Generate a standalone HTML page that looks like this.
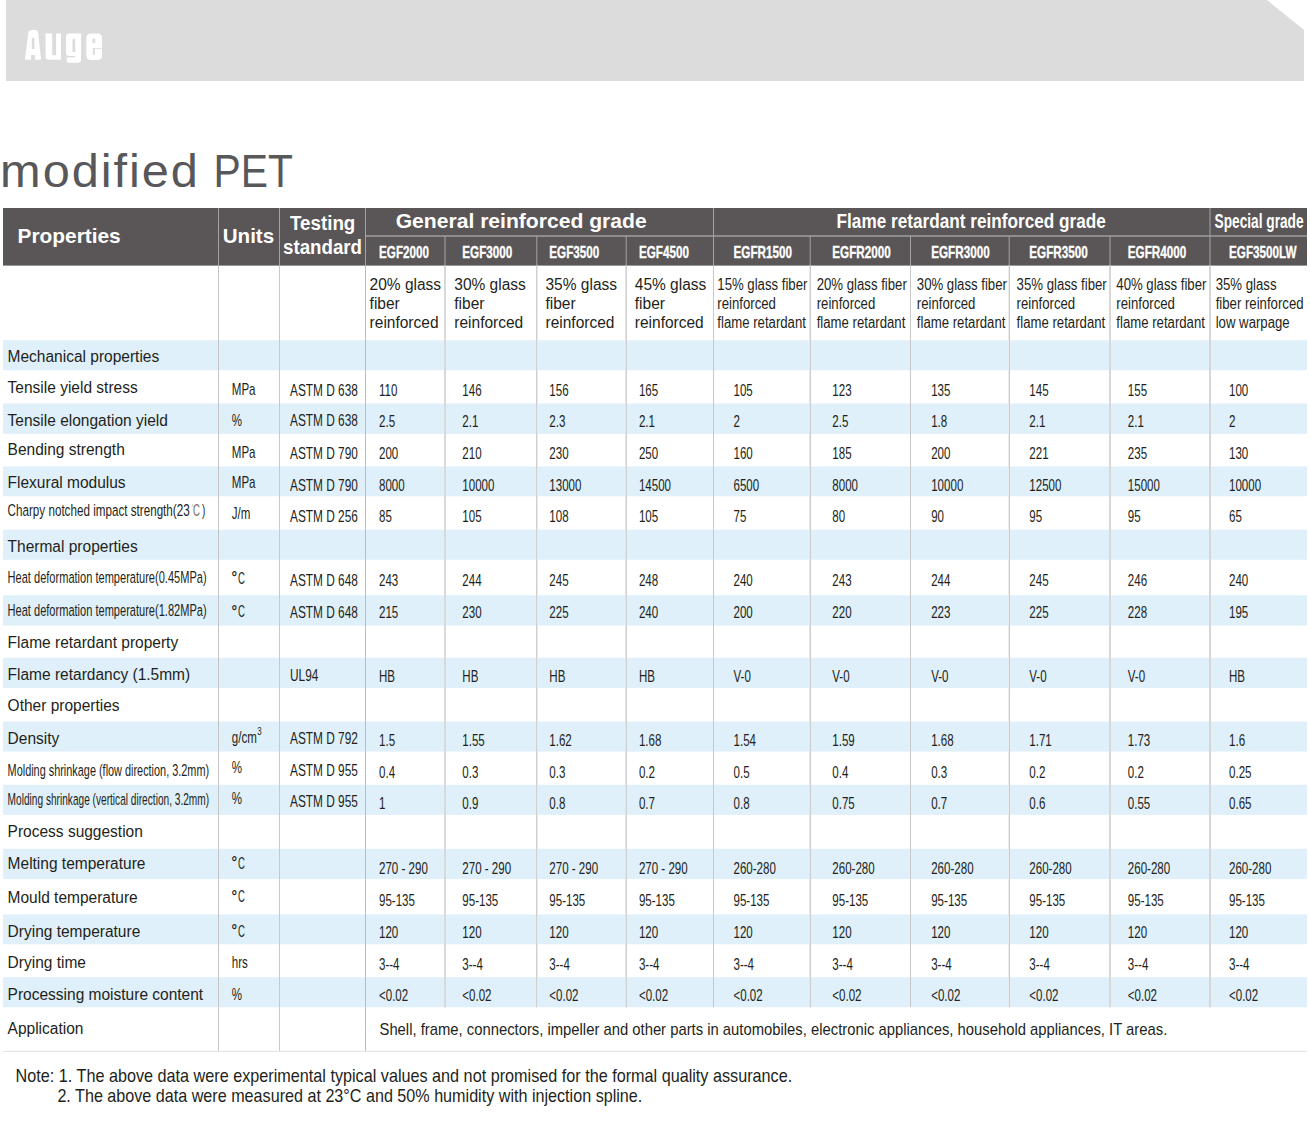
<!DOCTYPE html>
<html><head><meta charset="utf-8"><title>modified PET</title>
<style>
html,body{margin:0;padding:0;background:#fff}
#page{position:relative;width:1310px;height:1124px;overflow:hidden;background:#fff;font-family:"Liberation Sans",sans-serif}
svg{position:absolute;left:0;top:0;display:block}
svg text{font-family:"Liberation Sans",sans-serif}
</style></head><body><div id="page">
<svg width="1310" height="1124" viewBox="0 0 1310 1124">
<polygon points="6,0 1267,0 1304,30 1304,81 6,81" fill="#dcdcdc"/><path fill="#fff" fill-rule="evenodd" d="M24.9,59.8 L28.4,32.6 Q28.8,29.9 31.2,29.9 L35.4,29.9 Q37.8,29.9 38.2,32.6 L41.1,59.8 L35.1,59.8 L35.1,54.9 L31.2,54.9 L31.2,59.8 Z M31.8,49 L31.8,39 Q31.8,37.5 33.1,37.5 Q34.4,37.5 34.4,39 L34.4,49 Z M45.6,33.5 L52.2,33.5 L52.2,55.2 L56.1,55.2 L56.1,33.5 L61,33.5 L61,59.8 L48.8,59.8 Q45.6,59.8 45.6,56.6 Z M66,36.7 Q66,33.5 69.2,33.5 L81.1,33.5 L81.1,59.6 Q81.1,62.8 77.9,62.8 L69.5,62.8 Q66.3,62.8 66.6,60.3 L66.9,57.6 L74.3,57.6 Q75.2,57.6 75.2,56.7 L75.2,55.9 L69.2,55.9 Q66,55.9 66,52.7 Z M72.5,51.9 L72.5,38.8 L75.2,38.8 L75.2,51.9 Z M86.4,38 Q86.4,33.4 91,33.4 L97.4,33.4 Q102,33.4 102,38 L102,48 L94.9,48 L94.9,48.8 L102,48.8 L102,55.5 Q102,60.1 97.4,60.1 L91,60.1 Q86.4,60.1 86.4,55.5 Z M92.5,39.3 Q92.5,38.5 93.85,38.5 Q95.2,38.5 95.2,39.3 L95.2,42.9 L92.5,42.9 Z M92.8,48 L94.9,48 L94.9,54.3 Q94.9,55 93.85,55 Q92.8,55 92.8,54.3 Z"/>
<rect x="3" y="208" width="1304" height="57.6" fill="#5a5657"/>
<rect x="3" y="340.2" width="1304" height="30.1" fill="#dff0fa"/>
<rect x="3" y="403.5" width="1304" height="30.35" fill="#dff0fa"/>
<rect x="3" y="466.4" width="1304" height="29.9" fill="#dff0fa"/>
<rect x="3" y="529.7" width="1304" height="30.05" fill="#dff0fa"/>
<rect x="3" y="595.24" width="1304" height="30.36" fill="#dff0fa"/>
<rect x="3" y="657.8" width="1304" height="30.3" fill="#dff0fa"/>
<rect x="3" y="721.5" width="1304" height="30.1" fill="#dff0fa"/>
<rect x="3" y="784.8" width="1304" height="30.05" fill="#dff0fa"/>
<rect x="3" y="848.8" width="1304" height="30.3" fill="#dff0fa"/>
<rect x="3" y="914.4" width="1304" height="29.9" fill="#dff0fa"/>
<rect x="3" y="977.24" width="1304" height="30.06" fill="#dff0fa"/>
<rect x="218" y="208" width="1" height="57.6" fill="#a3a3a3"/>
<rect x="279" y="208" width="1" height="57.6" fill="#a3a3a3"/>
<rect x="365" y="208" width="1" height="57.6" fill="#a3a3a3"/>
<rect x="713" y="208" width="1" height="57.6" fill="#a3a3a3"/>
<rect x="1209.5" y="208" width="1" height="57.6" fill="#a3a3a3"/>
<rect x="444.5" y="236" width="1" height="29.6" fill="#a3a3a3"/>
<rect x="536.3" y="236" width="1" height="29.6" fill="#a3a3a3"/>
<rect x="625.7" y="236" width="1" height="29.6" fill="#a3a3a3"/>
<rect x="809.7" y="236" width="1" height="29.6" fill="#a3a3a3"/>
<rect x="910" y="236" width="1" height="29.6" fill="#a3a3a3"/>
<rect x="1008.7" y="236" width="1" height="29.6" fill="#a3a3a3"/>
<rect x="1109.5" y="236" width="1" height="29.6" fill="#a3a3a3"/>
<rect x="365" y="235.3" width="942" height="1.4" fill="#a3a3a3"/>
<rect x="218" y="265.6" width="1" height="785.4" fill="#c4c4c4"/>
<rect x="279" y="265.6" width="1" height="785.4" fill="#c8c8c8"/>
<rect x="365" y="265.6" width="1" height="785.4" fill="#bcbcbc"/>
<rect x="444" y="265.6" width="2" height="741.7" fill="#d9d9d9"/>
<rect x="536" y="265.6" width="1" height="741.7" fill="#d0d0d0"/>
<rect x="537" y="265.6" width="1" height="741.7" fill="#e8e8e8"/>
<rect x="625" y="265.6" width="1" height="741.7" fill="#e2e2e2"/>
<rect x="626" y="265.6" width="1" height="741.7" fill="#d2d2d2"/>
<rect x="713" y="265.6" width="1" height="741.7" fill="#c8c8c8"/>
<rect x="809" y="265.6" width="1" height="741.7" fill="#e8e8e8"/>
<rect x="810" y="265.6" width="1" height="741.7" fill="#cccccc"/>
<rect x="910" y="265.6" width="1" height="741.7" fill="#c8c8c8"/>
<rect x="1008" y="265.6" width="1" height="741.7" fill="#ececec"/>
<rect x="1009" y="265.6" width="1" height="741.7" fill="#cccccc"/>
<rect x="1109" y="265.6" width="2" height="741.7" fill="#d8d8d8"/>
<rect x="1209" y="265.6" width="2" height="741.7" fill="#d6d6d6"/>
<rect x="3" y="1050.8" width="1304" height="1.2" fill="#e6e6e6"/>
<text transform="translate(0.1 187.2) scale(1.06 1)" font-size="46" letter-spacing="1.81" fill="#58585a">modified</text>
<text transform="translate(213.6 187.2) scale(0.888 1)" font-size="46" fill="#58585a">PET</text>
<text x="17.5" y="243.4" font-size="21" font-weight="bold" fill="#ffffff" textLength="103.20" lengthAdjust="spacingAndGlyphs">Properties</text>
<text x="222.7" y="242.9" font-size="21" font-weight="bold" fill="#ffffff" textLength="51.50" lengthAdjust="spacingAndGlyphs">Units</text>
<text x="290" y="229.5" font-size="19.4" font-weight="bold" fill="#ffffff" textLength="65.30" lengthAdjust="spacingAndGlyphs">Testing</text>
<text x="283" y="254.3" font-size="19.4" font-weight="bold" fill="#ffffff" textLength="79.00" lengthAdjust="spacingAndGlyphs">standard</text>
<text x="395.7" y="227.5" font-size="20" font-weight="bold" fill="#ffffff" textLength="251.00" lengthAdjust="spacingAndGlyphs">General reinforced grade</text>
<text x="836.6" y="227.5" font-size="20" font-weight="bold" fill="#ffffff" textLength="269.20" lengthAdjust="spacingAndGlyphs">Flame retardant reinforced grade</text>
<text x="1214.6" y="228" font-size="19.5" font-weight="bold" fill="#ffffff" textLength="89.00" lengthAdjust="spacingAndGlyphs">Special grade</text>
<text x="379" y="257.8" font-size="16.5" font-weight="bold" fill="#ffffff" textLength="50.08" lengthAdjust="spacingAndGlyphs" stroke="#fff" stroke-width="0.35">EGF2000</text>
<text x="462.3" y="257.8" font-size="16.5" font-weight="bold" fill="#ffffff" textLength="50.08" lengthAdjust="spacingAndGlyphs" stroke="#fff" stroke-width="0.35">EGF3000</text>
<text x="549.3" y="257.8" font-size="16.5" font-weight="bold" fill="#ffffff" textLength="50.08" lengthAdjust="spacingAndGlyphs" stroke="#fff" stroke-width="0.35">EGF3500</text>
<text x="638.9" y="257.8" font-size="16.5" font-weight="bold" fill="#ffffff" textLength="50.08" lengthAdjust="spacingAndGlyphs" stroke="#fff" stroke-width="0.35">EGF4500</text>
<text x="733.5" y="257.8" font-size="16.5" font-weight="bold" fill="#ffffff" textLength="58.53" lengthAdjust="spacingAndGlyphs" stroke="#fff" stroke-width="0.35">EGFR1500</text>
<text x="832.3" y="257.8" font-size="16.5" font-weight="bold" fill="#ffffff" textLength="58.53" lengthAdjust="spacingAndGlyphs" stroke="#fff" stroke-width="0.35">EGFR2000</text>
<text x="931.2" y="257.8" font-size="16.5" font-weight="bold" fill="#ffffff" textLength="58.53" lengthAdjust="spacingAndGlyphs" stroke="#fff" stroke-width="0.35">EGFR3000</text>
<text x="1029.3" y="257.8" font-size="16.5" font-weight="bold" fill="#ffffff" textLength="58.53" lengthAdjust="spacingAndGlyphs" stroke="#fff" stroke-width="0.35">EGFR3500</text>
<text x="1127.8" y="257.8" font-size="16.5" font-weight="bold" fill="#ffffff" textLength="58.53" lengthAdjust="spacingAndGlyphs" stroke="#fff" stroke-width="0.35">EGFR4000</text>
<text x="1229" y="257.8" font-size="16.5" font-weight="bold" fill="#ffffff" textLength="67.62" lengthAdjust="spacingAndGlyphs" stroke="#fff" stroke-width="0.35">EGF3500LW</text>
<text x="369.6" y="289.7" font-size="15.8" fill="#231f20" textLength="71.51" lengthAdjust="spacingAndGlyphs">20% glass</text>
<text x="369.6" y="309" font-size="15.8" fill="#231f20" textLength="30.15" lengthAdjust="spacingAndGlyphs">fiber</text>
<text x="369.6" y="327.7" font-size="15.8" fill="#231f20" textLength="68.93" lengthAdjust="spacingAndGlyphs">reinforced</text>
<text x="454.3" y="289.7" font-size="15.8" fill="#231f20" textLength="71.51" lengthAdjust="spacingAndGlyphs">30% glass</text>
<text x="454.3" y="309" font-size="15.8" fill="#231f20" textLength="30.15" lengthAdjust="spacingAndGlyphs">fiber</text>
<text x="454.3" y="327.7" font-size="15.8" fill="#231f20" textLength="68.93" lengthAdjust="spacingAndGlyphs">reinforced</text>
<text x="545.5" y="289.7" font-size="15.8" fill="#231f20" textLength="71.51" lengthAdjust="spacingAndGlyphs">35% glass</text>
<text x="545.5" y="309" font-size="15.8" fill="#231f20" textLength="30.15" lengthAdjust="spacingAndGlyphs">fiber</text>
<text x="545.5" y="327.7" font-size="15.8" fill="#231f20" textLength="68.93" lengthAdjust="spacingAndGlyphs">reinforced</text>
<text x="634.8" y="289.7" font-size="15.8" fill="#231f20" textLength="71.51" lengthAdjust="spacingAndGlyphs">45% glass</text>
<text x="634.8" y="309" font-size="15.8" fill="#231f20" textLength="30.15" lengthAdjust="spacingAndGlyphs">fiber</text>
<text x="634.8" y="327.7" font-size="15.8" fill="#231f20" textLength="68.93" lengthAdjust="spacingAndGlyphs">reinforced</text>
<text x="717.3" y="289.7" font-size="16" fill="#231f20" textLength="90.08" lengthAdjust="spacingAndGlyphs">15% glass fiber</text>
<text x="717.3" y="309" font-size="16" fill="#231f20" textLength="58.59" lengthAdjust="spacingAndGlyphs">reinforced</text>
<text x="717.3" y="327.7" font-size="16" fill="#231f20" textLength="88.61" lengthAdjust="spacingAndGlyphs">flame retardant</text>
<text x="816.7" y="289.7" font-size="16" fill="#231f20" textLength="90.08" lengthAdjust="spacingAndGlyphs">20% glass fiber</text>
<text x="816.7" y="309" font-size="16" fill="#231f20" textLength="58.59" lengthAdjust="spacingAndGlyphs">reinforced</text>
<text x="816.7" y="327.7" font-size="16" fill="#231f20" textLength="88.61" lengthAdjust="spacingAndGlyphs">flame retardant</text>
<text x="916.8" y="289.7" font-size="16" fill="#231f20" textLength="90.08" lengthAdjust="spacingAndGlyphs">30% glass fiber</text>
<text x="916.8" y="309" font-size="16" fill="#231f20" textLength="58.59" lengthAdjust="spacingAndGlyphs">reinforced</text>
<text x="916.8" y="327.7" font-size="16" fill="#231f20" textLength="88.61" lengthAdjust="spacingAndGlyphs">flame retardant</text>
<text x="1016.6" y="289.7" font-size="16" fill="#231f20" textLength="90.08" lengthAdjust="spacingAndGlyphs">35% glass fiber</text>
<text x="1016.6" y="309" font-size="16" fill="#231f20" textLength="58.59" lengthAdjust="spacingAndGlyphs">reinforced</text>
<text x="1016.6" y="327.7" font-size="16" fill="#231f20" textLength="88.61" lengthAdjust="spacingAndGlyphs">flame retardant</text>
<text x="1116.3" y="289.7" font-size="16" fill="#231f20" textLength="90.08" lengthAdjust="spacingAndGlyphs">40% glass fiber</text>
<text x="1116.3" y="309" font-size="16" fill="#231f20" textLength="58.59" lengthAdjust="spacingAndGlyphs">reinforced</text>
<text x="1116.3" y="327.7" font-size="16" fill="#231f20" textLength="88.61" lengthAdjust="spacingAndGlyphs">flame retardant</text>
<text x="1215.7" y="289.7" font-size="16" fill="#231f20" textLength="60.79" lengthAdjust="spacingAndGlyphs">35% glass</text>
<text x="1215.7" y="309" font-size="16" fill="#231f20" textLength="87.88" lengthAdjust="spacingAndGlyphs">fiber reinforced</text>
<text x="1215.7" y="327.7" font-size="16" fill="#231f20" textLength="73.97" lengthAdjust="spacingAndGlyphs">low warpage</text>
<text x="7.6" y="362.09999999999997" font-size="15.8" fill="#231f20" textLength="151.63" lengthAdjust="spacingAndGlyphs">Mechanical properties</text>
<text x="7.6" y="392.8" font-size="15.8" fill="#231f20" textLength="130.08" lengthAdjust="spacingAndGlyphs">Tensile yield stress</text>
<text x="231.8" y="395.2" font-size="16.6" fill="#231f20" textLength="23.75" lengthAdjust="spacingAndGlyphs">MPa</text>
<text x="290" y="395.5" font-size="16.6" fill="#231f20" textLength="67.83" lengthAdjust="spacingAndGlyphs">ASTM D 638</text>
<text x="379" y="395.6" font-size="16.6" fill="#231f20" textLength="18.41" lengthAdjust="spacingAndGlyphs">110</text>
<text x="462.3" y="395.6" font-size="16.6" fill="#231f20" textLength="19.27" lengthAdjust="spacingAndGlyphs">146</text>
<text x="549.3" y="395.6" font-size="16.6" fill="#231f20" textLength="19.27" lengthAdjust="spacingAndGlyphs">156</text>
<text x="638.9" y="395.6" font-size="16.6" fill="#231f20" textLength="19.27" lengthAdjust="spacingAndGlyphs">165</text>
<text x="733.5" y="395.6" font-size="16.6" fill="#231f20" textLength="19.27" lengthAdjust="spacingAndGlyphs">105</text>
<text x="832.3" y="395.6" font-size="16.6" fill="#231f20" textLength="19.27" lengthAdjust="spacingAndGlyphs">123</text>
<text x="931.2" y="395.6" font-size="16.6" fill="#231f20" textLength="19.27" lengthAdjust="spacingAndGlyphs">135</text>
<text x="1029.3" y="395.6" font-size="16.6" fill="#231f20" textLength="19.27" lengthAdjust="spacingAndGlyphs">145</text>
<text x="1127.8" y="395.6" font-size="16.6" fill="#231f20" textLength="19.27" lengthAdjust="spacingAndGlyphs">155</text>
<text x="1229" y="395.6" font-size="16.6" fill="#231f20" textLength="19.27" lengthAdjust="spacingAndGlyphs">100</text>
<text x="7.6" y="426.4" font-size="15.8" fill="#231f20" textLength="160.28" lengthAdjust="spacingAndGlyphs">Tensile elongation yield</text>
<text x="231.8" y="425.9" font-size="16.6" fill="#231f20" textLength="10.27" lengthAdjust="spacingAndGlyphs">%</text>
<text x="290" y="426.40000000000003" font-size="16.6" fill="#231f20" textLength="67.83" lengthAdjust="spacingAndGlyphs">ASTM D 638</text>
<text x="379" y="427.1" font-size="16.6" fill="#231f20" textLength="16.06" lengthAdjust="spacingAndGlyphs">2.5</text>
<text x="462.3" y="427.1" font-size="16.6" fill="#231f20" textLength="16.06" lengthAdjust="spacingAndGlyphs">2.1</text>
<text x="549.3" y="427.1" font-size="16.6" fill="#231f20" textLength="16.06" lengthAdjust="spacingAndGlyphs">2.3</text>
<text x="638.9" y="427.1" font-size="16.6" fill="#231f20" textLength="16.06" lengthAdjust="spacingAndGlyphs">2.1</text>
<text x="733.5" y="427.1" font-size="16.6" fill="#231f20" textLength="6.42" lengthAdjust="spacingAndGlyphs">2</text>
<text x="832.3" y="427.1" font-size="16.6" fill="#231f20" textLength="16.06" lengthAdjust="spacingAndGlyphs">2.5</text>
<text x="931.2" y="427.1" font-size="16.6" fill="#231f20" textLength="16.06" lengthAdjust="spacingAndGlyphs">1.8</text>
<text x="1029.3" y="427.1" font-size="16.6" fill="#231f20" textLength="16.06" lengthAdjust="spacingAndGlyphs">2.1</text>
<text x="1127.8" y="427.1" font-size="16.6" fill="#231f20" textLength="16.06" lengthAdjust="spacingAndGlyphs">2.1</text>
<text x="1229" y="427.1" font-size="16.6" fill="#231f20" textLength="6.42" lengthAdjust="spacingAndGlyphs">2</text>
<text x="7.6" y="455.0" font-size="15.8" fill="#231f20" textLength="117.20" lengthAdjust="spacingAndGlyphs">Bending strength</text>
<text x="231.8" y="457.5" font-size="16.6" fill="#231f20" textLength="23.75" lengthAdjust="spacingAndGlyphs">MPa</text>
<text x="290" y="458.7" font-size="16.6" fill="#231f20" textLength="67.83" lengthAdjust="spacingAndGlyphs">ASTM D 790</text>
<text x="379" y="458.7" font-size="16.6" fill="#231f20" textLength="19.27" lengthAdjust="spacingAndGlyphs">200</text>
<text x="462.3" y="458.7" font-size="16.6" fill="#231f20" textLength="19.27" lengthAdjust="spacingAndGlyphs">210</text>
<text x="549.3" y="458.7" font-size="16.6" fill="#231f20" textLength="19.27" lengthAdjust="spacingAndGlyphs">230</text>
<text x="638.9" y="458.7" font-size="16.6" fill="#231f20" textLength="19.27" lengthAdjust="spacingAndGlyphs">250</text>
<text x="733.5" y="458.7" font-size="16.6" fill="#231f20" textLength="19.27" lengthAdjust="spacingAndGlyphs">160</text>
<text x="832.3" y="458.7" font-size="16.6" fill="#231f20" textLength="19.27" lengthAdjust="spacingAndGlyphs">185</text>
<text x="931.2" y="458.7" font-size="16.6" fill="#231f20" textLength="19.27" lengthAdjust="spacingAndGlyphs">200</text>
<text x="1029.3" y="458.7" font-size="16.6" fill="#231f20" textLength="19.27" lengthAdjust="spacingAndGlyphs">221</text>
<text x="1127.8" y="458.7" font-size="16.6" fill="#231f20" textLength="19.27" lengthAdjust="spacingAndGlyphs">235</text>
<text x="1229" y="458.7" font-size="16.6" fill="#231f20" textLength="19.27" lengthAdjust="spacingAndGlyphs">130</text>
<text x="7.6" y="488.09999999999997" font-size="15.8" fill="#231f20" textLength="118.02" lengthAdjust="spacingAndGlyphs">Flexural modulus</text>
<text x="231.8" y="488.0" font-size="16.6" fill="#231f20" textLength="23.75" lengthAdjust="spacingAndGlyphs">MPa</text>
<text x="290" y="490.5" font-size="16.6" fill="#231f20" textLength="67.83" lengthAdjust="spacingAndGlyphs">ASTM D 790</text>
<text x="379" y="490.5" font-size="16.6" fill="#231f20" textLength="25.69" lengthAdjust="spacingAndGlyphs">8000</text>
<text x="462.3" y="490.5" font-size="16.6" fill="#231f20" textLength="32.12" lengthAdjust="spacingAndGlyphs">10000</text>
<text x="549.3" y="490.5" font-size="16.6" fill="#231f20" textLength="32.12" lengthAdjust="spacingAndGlyphs">13000</text>
<text x="638.9" y="490.5" font-size="16.6" fill="#231f20" textLength="32.12" lengthAdjust="spacingAndGlyphs">14500</text>
<text x="733.5" y="490.5" font-size="16.6" fill="#231f20" textLength="25.69" lengthAdjust="spacingAndGlyphs">6500</text>
<text x="832.3" y="490.5" font-size="16.6" fill="#231f20" textLength="25.69" lengthAdjust="spacingAndGlyphs">8000</text>
<text x="931.2" y="490.5" font-size="16.6" fill="#231f20" textLength="32.12" lengthAdjust="spacingAndGlyphs">10000</text>
<text x="1029.3" y="490.5" font-size="16.6" fill="#231f20" textLength="32.12" lengthAdjust="spacingAndGlyphs">12500</text>
<text x="1127.8" y="490.5" font-size="16.6" fill="#231f20" textLength="32.12" lengthAdjust="spacingAndGlyphs">15000</text>
<text x="1229" y="490.5" font-size="16.6" fill="#231f20" textLength="32.12" lengthAdjust="spacingAndGlyphs">10000</text>
<text x="7.6" y="516.4000000000001" font-size="16.8" fill="#231f20" textLength="182.10" lengthAdjust="spacingAndGlyphs">Charpy notched impact strength(23</text>
<text x="231.8" y="519.1999999999999" font-size="16.6" fill="#231f20" textLength="18.61" lengthAdjust="spacingAndGlyphs">J/m</text>
<text x="290" y="521.9" font-size="16.6" fill="#231f20" textLength="67.83" lengthAdjust="spacingAndGlyphs">ASTM D 256</text>
<text x="379" y="521.9" font-size="16.6" fill="#231f20" textLength="12.85" lengthAdjust="spacingAndGlyphs">85</text>
<text x="462.3" y="521.9" font-size="16.6" fill="#231f20" textLength="19.27" lengthAdjust="spacingAndGlyphs">105</text>
<text x="549.3" y="521.9" font-size="16.6" fill="#231f20" textLength="19.27" lengthAdjust="spacingAndGlyphs">108</text>
<text x="638.9" y="521.9" font-size="16.6" fill="#231f20" textLength="19.27" lengthAdjust="spacingAndGlyphs">105</text>
<text x="733.5" y="521.9" font-size="16.6" fill="#231f20" textLength="12.85" lengthAdjust="spacingAndGlyphs">75</text>
<text x="832.3" y="521.9" font-size="16.6" fill="#231f20" textLength="12.85" lengthAdjust="spacingAndGlyphs">80</text>
<text x="931.2" y="521.9" font-size="16.6" fill="#231f20" textLength="12.85" lengthAdjust="spacingAndGlyphs">90</text>
<text x="1029.3" y="521.9" font-size="16.6" fill="#231f20" textLength="12.85" lengthAdjust="spacingAndGlyphs">95</text>
<text x="1127.8" y="521.9" font-size="16.6" fill="#231f20" textLength="12.85" lengthAdjust="spacingAndGlyphs">95</text>
<text x="1229" y="521.9" font-size="16.6" fill="#231f20" textLength="12.85" lengthAdjust="spacingAndGlyphs">65</text>
<text x="7.6" y="551.6" font-size="15.8" fill="#231f20" textLength="130.08" lengthAdjust="spacingAndGlyphs">Thermal properties</text>
<text x="7.6" y="583.4000000000001" font-size="16.8" fill="#231f20" textLength="199.00" lengthAdjust="spacingAndGlyphs">Heat deformation temperature(0.45MPa)</text>
<text x="231.5" y="582.2" font-size="15" font-weight="bold" fill="#231f20" textLength="5.60" lengthAdjust="spacingAndGlyphs">°</text>
<text x="238.10000000000002" y="583.6" font-size="16.6" fill="#231f20" textLength="6.90" lengthAdjust="spacingAndGlyphs">C</text>
<text x="290" y="585.8" font-size="16.6" fill="#231f20" textLength="67.83" lengthAdjust="spacingAndGlyphs">ASTM D 648</text>
<text x="379" y="585.8" font-size="16.6" fill="#231f20" textLength="19.27" lengthAdjust="spacingAndGlyphs">243</text>
<text x="462.3" y="585.8" font-size="16.6" fill="#231f20" textLength="19.27" lengthAdjust="spacingAndGlyphs">244</text>
<text x="549.3" y="585.8" font-size="16.6" fill="#231f20" textLength="19.27" lengthAdjust="spacingAndGlyphs">245</text>
<text x="638.9" y="585.8" font-size="16.6" fill="#231f20" textLength="19.27" lengthAdjust="spacingAndGlyphs">248</text>
<text x="733.5" y="585.8" font-size="16.6" fill="#231f20" textLength="19.27" lengthAdjust="spacingAndGlyphs">240</text>
<text x="832.3" y="585.8" font-size="16.6" fill="#231f20" textLength="19.27" lengthAdjust="spacingAndGlyphs">243</text>
<text x="931.2" y="585.8" font-size="16.6" fill="#231f20" textLength="19.27" lengthAdjust="spacingAndGlyphs">244</text>
<text x="1029.3" y="585.8" font-size="16.6" fill="#231f20" textLength="19.27" lengthAdjust="spacingAndGlyphs">245</text>
<text x="1127.8" y="585.8" font-size="16.6" fill="#231f20" textLength="19.27" lengthAdjust="spacingAndGlyphs">246</text>
<text x="1229" y="585.8" font-size="16.6" fill="#231f20" textLength="19.27" lengthAdjust="spacingAndGlyphs">240</text>
<text x="7.6" y="616.3000000000001" font-size="16.8" fill="#231f20" textLength="199.00" lengthAdjust="spacingAndGlyphs">Heat deformation temperature(1.82MPa)</text>
<text x="231.5" y="615.9" font-size="15" font-weight="bold" fill="#231f20" textLength="5.60" lengthAdjust="spacingAndGlyphs">°</text>
<text x="238.10000000000002" y="617.3" font-size="16.6" fill="#231f20" textLength="6.90" lengthAdjust="spacingAndGlyphs">C</text>
<text x="290" y="617.5" font-size="16.6" fill="#231f20" textLength="67.83" lengthAdjust="spacingAndGlyphs">ASTM D 648</text>
<text x="379" y="617.5" font-size="16.6" fill="#231f20" textLength="19.27" lengthAdjust="spacingAndGlyphs">215</text>
<text x="462.3" y="617.5" font-size="16.6" fill="#231f20" textLength="19.27" lengthAdjust="spacingAndGlyphs">230</text>
<text x="549.3" y="617.5" font-size="16.6" fill="#231f20" textLength="19.27" lengthAdjust="spacingAndGlyphs">225</text>
<text x="638.9" y="617.5" font-size="16.6" fill="#231f20" textLength="19.27" lengthAdjust="spacingAndGlyphs">240</text>
<text x="733.5" y="617.5" font-size="16.6" fill="#231f20" textLength="19.27" lengthAdjust="spacingAndGlyphs">200</text>
<text x="832.3" y="617.5" font-size="16.6" fill="#231f20" textLength="19.27" lengthAdjust="spacingAndGlyphs">220</text>
<text x="931.2" y="617.5" font-size="16.6" fill="#231f20" textLength="19.27" lengthAdjust="spacingAndGlyphs">223</text>
<text x="1029.3" y="617.5" font-size="16.6" fill="#231f20" textLength="19.27" lengthAdjust="spacingAndGlyphs">225</text>
<text x="1127.8" y="617.5" font-size="16.6" fill="#231f20" textLength="19.27" lengthAdjust="spacingAndGlyphs">228</text>
<text x="1229" y="617.5" font-size="16.6" fill="#231f20" textLength="19.27" lengthAdjust="spacingAndGlyphs">195</text>
<text x="7.6" y="647.6" font-size="15.8" fill="#231f20" textLength="170.58" lengthAdjust="spacingAndGlyphs">Flame retardant property</text>
<text x="7.6" y="680.3000000000001" font-size="15.8" fill="#231f20" textLength="182.60" lengthAdjust="spacingAndGlyphs">Flame retardancy (1.5mm)</text>
<text x="290" y="681.0" font-size="16.6" fill="#231f20" textLength="28.33" lengthAdjust="spacingAndGlyphs">UL94</text>
<text x="379" y="682.3" font-size="16.6" fill="#231f20" textLength="16.04" lengthAdjust="spacingAndGlyphs">HB</text>
<text x="462.3" y="682.3" font-size="16.6" fill="#231f20" textLength="16.04" lengthAdjust="spacingAndGlyphs">HB</text>
<text x="549.3" y="682.3" font-size="16.6" fill="#231f20" textLength="16.04" lengthAdjust="spacingAndGlyphs">HB</text>
<text x="638.9" y="682.3" font-size="16.6" fill="#231f20" textLength="16.04" lengthAdjust="spacingAndGlyphs">HB</text>
<text x="733.5" y="682.3" font-size="16.6" fill="#231f20" textLength="17.34" lengthAdjust="spacingAndGlyphs">V-0</text>
<text x="832.3" y="682.3" font-size="16.6" fill="#231f20" textLength="17.34" lengthAdjust="spacingAndGlyphs">V-0</text>
<text x="931.2" y="682.3" font-size="16.6" fill="#231f20" textLength="17.34" lengthAdjust="spacingAndGlyphs">V-0</text>
<text x="1029.3" y="682.3" font-size="16.6" fill="#231f20" textLength="17.34" lengthAdjust="spacingAndGlyphs">V-0</text>
<text x="1127.8" y="682.3" font-size="16.6" fill="#231f20" textLength="17.34" lengthAdjust="spacingAndGlyphs">V-0</text>
<text x="1229" y="682.3" font-size="16.6" fill="#231f20" textLength="16.04" lengthAdjust="spacingAndGlyphs">HB</text>
<text x="7.6" y="711.4000000000001" font-size="15.8" fill="#231f20" textLength="112.00" lengthAdjust="spacingAndGlyphs">Other properties</text>
<text x="7.6" y="744.1" font-size="15.8" fill="#231f20" textLength="51.68" lengthAdjust="spacingAndGlyphs">Density</text>
<text x="231.8" y="742.8" font-size="16.6" fill="#231f20" textLength="25.03" lengthAdjust="spacingAndGlyphs">g/cm</text>
<text x="257.32885" y="735.3" font-size="10" fill="#231f20" textLength="4.45" lengthAdjust="spacingAndGlyphs">3</text>
<text x="290" y="744.0" font-size="16.6" fill="#231f20" textLength="67.83" lengthAdjust="spacingAndGlyphs">ASTM D 792</text>
<text x="379" y="745.9" font-size="16.6" fill="#231f20" textLength="16.06" lengthAdjust="spacingAndGlyphs">1.5</text>
<text x="462.3" y="745.9" font-size="16.6" fill="#231f20" textLength="22.48" lengthAdjust="spacingAndGlyphs">1.55</text>
<text x="549.3" y="745.9" font-size="16.6" fill="#231f20" textLength="22.48" lengthAdjust="spacingAndGlyphs">1.62</text>
<text x="638.9" y="745.9" font-size="16.6" fill="#231f20" textLength="22.48" lengthAdjust="spacingAndGlyphs">1.68</text>
<text x="733.5" y="745.9" font-size="16.6" fill="#231f20" textLength="22.48" lengthAdjust="spacingAndGlyphs">1.54</text>
<text x="832.3" y="745.9" font-size="16.6" fill="#231f20" textLength="22.48" lengthAdjust="spacingAndGlyphs">1.59</text>
<text x="931.2" y="745.9" font-size="16.6" fill="#231f20" textLength="22.48" lengthAdjust="spacingAndGlyphs">1.68</text>
<text x="1029.3" y="745.9" font-size="16.6" fill="#231f20" textLength="22.48" lengthAdjust="spacingAndGlyphs">1.71</text>
<text x="1127.8" y="745.9" font-size="16.6" fill="#231f20" textLength="22.48" lengthAdjust="spacingAndGlyphs">1.73</text>
<text x="1229" y="745.9" font-size="16.6" fill="#231f20" textLength="16.06" lengthAdjust="spacingAndGlyphs">1.6</text>
<text x="7.6" y="775.6" font-size="16.8" fill="#231f20" textLength="201.50" lengthAdjust="spacingAndGlyphs">Molding shrinkage (flow direction, 3.2mm)</text>
<text x="231.8" y="773.1" font-size="16.6" fill="#231f20" textLength="10.27" lengthAdjust="spacingAndGlyphs">%</text>
<text x="290" y="775.8" font-size="16.6" fill="#231f20" textLength="67.83" lengthAdjust="spacingAndGlyphs">ASTM D 955</text>
<text x="379" y="778.1999999999999" font-size="16.6" fill="#231f20" textLength="16.06" lengthAdjust="spacingAndGlyphs">0.4</text>
<text x="462.3" y="778.1999999999999" font-size="16.6" fill="#231f20" textLength="16.06" lengthAdjust="spacingAndGlyphs">0.3</text>
<text x="549.3" y="778.1999999999999" font-size="16.6" fill="#231f20" textLength="16.06" lengthAdjust="spacingAndGlyphs">0.3</text>
<text x="638.9" y="778.1999999999999" font-size="16.6" fill="#231f20" textLength="16.06" lengthAdjust="spacingAndGlyphs">0.2</text>
<text x="733.5" y="778.1999999999999" font-size="16.6" fill="#231f20" textLength="16.06" lengthAdjust="spacingAndGlyphs">0.5</text>
<text x="832.3" y="778.1999999999999" font-size="16.6" fill="#231f20" textLength="16.06" lengthAdjust="spacingAndGlyphs">0.4</text>
<text x="931.2" y="778.1999999999999" font-size="16.6" fill="#231f20" textLength="16.06" lengthAdjust="spacingAndGlyphs">0.3</text>
<text x="1029.3" y="778.1999999999999" font-size="16.6" fill="#231f20" textLength="16.06" lengthAdjust="spacingAndGlyphs">0.2</text>
<text x="1127.8" y="778.1999999999999" font-size="16.6" fill="#231f20" textLength="16.06" lengthAdjust="spacingAndGlyphs">0.2</text>
<text x="1229" y="778.1999999999999" font-size="16.6" fill="#231f20" textLength="22.48" lengthAdjust="spacingAndGlyphs">0.25</text>
<text x="7.6" y="804.5" font-size="16.8" fill="#231f20" textLength="201.50" lengthAdjust="spacingAndGlyphs">Molding shrinkage (vertical direction, 3.2mm)</text>
<text x="231.8" y="803.9" font-size="16.6" fill="#231f20" textLength="10.27" lengthAdjust="spacingAndGlyphs">%</text>
<text x="290" y="807.1999999999999" font-size="16.6" fill="#231f20" textLength="67.83" lengthAdjust="spacingAndGlyphs">ASTM D 955</text>
<text x="379" y="809.4" font-size="16.6" fill="#231f20" textLength="6.42" lengthAdjust="spacingAndGlyphs">1</text>
<text x="462.3" y="809.4" font-size="16.6" fill="#231f20" textLength="16.06" lengthAdjust="spacingAndGlyphs">0.9</text>
<text x="549.3" y="809.4" font-size="16.6" fill="#231f20" textLength="16.06" lengthAdjust="spacingAndGlyphs">0.8</text>
<text x="638.9" y="809.4" font-size="16.6" fill="#231f20" textLength="16.06" lengthAdjust="spacingAndGlyphs">0.7</text>
<text x="733.5" y="809.4" font-size="16.6" fill="#231f20" textLength="16.06" lengthAdjust="spacingAndGlyphs">0.8</text>
<text x="832.3" y="809.4" font-size="16.6" fill="#231f20" textLength="22.48" lengthAdjust="spacingAndGlyphs">0.75</text>
<text x="931.2" y="809.4" font-size="16.6" fill="#231f20" textLength="16.06" lengthAdjust="spacingAndGlyphs">0.7</text>
<text x="1029.3" y="809.4" font-size="16.6" fill="#231f20" textLength="16.06" lengthAdjust="spacingAndGlyphs">0.6</text>
<text x="1127.8" y="809.4" font-size="16.6" fill="#231f20" textLength="22.48" lengthAdjust="spacingAndGlyphs">0.55</text>
<text x="1229" y="809.4" font-size="16.6" fill="#231f20" textLength="22.48" lengthAdjust="spacingAndGlyphs">0.65</text>
<text x="7.6" y="837.2" font-size="15.8" fill="#231f20" textLength="135.27" lengthAdjust="spacingAndGlyphs">Process suggestion</text>
<text x="7.6" y="869.1" font-size="15.8" fill="#231f20" textLength="137.84" lengthAdjust="spacingAndGlyphs">Melting temperature</text>
<text x="231.5" y="867.4" font-size="15" font-weight="bold" fill="#231f20" textLength="5.60" lengthAdjust="spacingAndGlyphs">°</text>
<text x="238.10000000000002" y="868.8" font-size="16.6" fill="#231f20" textLength="6.90" lengthAdjust="spacingAndGlyphs">C</text>
<text x="379" y="874.3" font-size="16.6" fill="#231f20" textLength="48.81" lengthAdjust="spacingAndGlyphs">270 - 290</text>
<text x="462.3" y="874.3" font-size="16.6" fill="#231f20" textLength="48.81" lengthAdjust="spacingAndGlyphs">270 - 290</text>
<text x="549.3" y="874.3" font-size="16.6" fill="#231f20" textLength="48.81" lengthAdjust="spacingAndGlyphs">270 - 290</text>
<text x="638.9" y="874.3" font-size="16.6" fill="#231f20" textLength="48.81" lengthAdjust="spacingAndGlyphs">270 - 290</text>
<text x="733.5" y="874.3" font-size="16.6" fill="#231f20" textLength="42.39" lengthAdjust="spacingAndGlyphs">260-280</text>
<text x="832.3" y="874.3" font-size="16.6" fill="#231f20" textLength="42.39" lengthAdjust="spacingAndGlyphs">260-280</text>
<text x="931.2" y="874.3" font-size="16.6" fill="#231f20" textLength="42.39" lengthAdjust="spacingAndGlyphs">260-280</text>
<text x="1029.3" y="874.3" font-size="16.6" fill="#231f20" textLength="42.39" lengthAdjust="spacingAndGlyphs">260-280</text>
<text x="1127.8" y="874.3" font-size="16.6" fill="#231f20" textLength="42.39" lengthAdjust="spacingAndGlyphs">260-280</text>
<text x="1229" y="874.3" font-size="16.6" fill="#231f20" textLength="42.39" lengthAdjust="spacingAndGlyphs">260-280</text>
<text x="7.6" y="902.6" font-size="15.8" fill="#231f20" textLength="130.09" lengthAdjust="spacingAndGlyphs">Mould temperature</text>
<text x="231.5" y="901.0" font-size="15" font-weight="bold" fill="#231f20" textLength="5.60" lengthAdjust="spacingAndGlyphs">°</text>
<text x="238.10000000000002" y="902.4" font-size="16.6" fill="#231f20" textLength="6.90" lengthAdjust="spacingAndGlyphs">C</text>
<text x="379" y="906.0" font-size="16.6" fill="#231f20" textLength="35.96" lengthAdjust="spacingAndGlyphs">95-135</text>
<text x="462.3" y="906.0" font-size="16.6" fill="#231f20" textLength="35.96" lengthAdjust="spacingAndGlyphs">95-135</text>
<text x="549.3" y="906.0" font-size="16.6" fill="#231f20" textLength="35.96" lengthAdjust="spacingAndGlyphs">95-135</text>
<text x="638.9" y="906.0" font-size="16.6" fill="#231f20" textLength="35.96" lengthAdjust="spacingAndGlyphs">95-135</text>
<text x="733.5" y="906.0" font-size="16.6" fill="#231f20" textLength="35.96" lengthAdjust="spacingAndGlyphs">95-135</text>
<text x="832.3" y="906.0" font-size="16.6" fill="#231f20" textLength="35.96" lengthAdjust="spacingAndGlyphs">95-135</text>
<text x="931.2" y="906.0" font-size="16.6" fill="#231f20" textLength="35.96" lengthAdjust="spacingAndGlyphs">95-135</text>
<text x="1029.3" y="906.0" font-size="16.6" fill="#231f20" textLength="35.96" lengthAdjust="spacingAndGlyphs">95-135</text>
<text x="1127.8" y="906.0" font-size="16.6" fill="#231f20" textLength="35.96" lengthAdjust="spacingAndGlyphs">95-135</text>
<text x="1229" y="906.0" font-size="16.6" fill="#231f20" textLength="35.96" lengthAdjust="spacingAndGlyphs">95-135</text>
<text x="7.6" y="937.0" font-size="15.8" fill="#231f20" textLength="132.67" lengthAdjust="spacingAndGlyphs">Drying temperature</text>
<text x="231.5" y="935.2" font-size="15" font-weight="bold" fill="#231f20" textLength="5.60" lengthAdjust="spacingAndGlyphs">°</text>
<text x="238.10000000000002" y="936.6" font-size="16.6" fill="#231f20" textLength="6.90" lengthAdjust="spacingAndGlyphs">C</text>
<text x="379" y="937.8" font-size="16.6" fill="#231f20" textLength="19.27" lengthAdjust="spacingAndGlyphs">120</text>
<text x="462.3" y="937.8" font-size="16.6" fill="#231f20" textLength="19.27" lengthAdjust="spacingAndGlyphs">120</text>
<text x="549.3" y="937.8" font-size="16.6" fill="#231f20" textLength="19.27" lengthAdjust="spacingAndGlyphs">120</text>
<text x="638.9" y="937.8" font-size="16.6" fill="#231f20" textLength="19.27" lengthAdjust="spacingAndGlyphs">120</text>
<text x="733.5" y="937.8" font-size="16.6" fill="#231f20" textLength="19.27" lengthAdjust="spacingAndGlyphs">120</text>
<text x="832.3" y="937.8" font-size="16.6" fill="#231f20" textLength="19.27" lengthAdjust="spacingAndGlyphs">120</text>
<text x="931.2" y="937.8" font-size="16.6" fill="#231f20" textLength="19.27" lengthAdjust="spacingAndGlyphs">120</text>
<text x="1029.3" y="937.8" font-size="16.6" fill="#231f20" textLength="19.27" lengthAdjust="spacingAndGlyphs">120</text>
<text x="1127.8" y="937.8" font-size="16.6" fill="#231f20" textLength="19.27" lengthAdjust="spacingAndGlyphs">120</text>
<text x="1229" y="937.8" font-size="16.6" fill="#231f20" textLength="19.27" lengthAdjust="spacingAndGlyphs">120</text>
<text x="7.6" y="968.1" font-size="15.8" fill="#231f20" textLength="78.38" lengthAdjust="spacingAndGlyphs">Drying time</text>
<text x="231.8" y="967.8" font-size="16.6" fill="#231f20" textLength="16.04" lengthAdjust="spacingAndGlyphs">hrs</text>
<text x="379" y="969.5999999999999" font-size="16.6" fill="#231f20" textLength="20.54" lengthAdjust="spacingAndGlyphs">3--4</text>
<text x="462.3" y="969.5999999999999" font-size="16.6" fill="#231f20" textLength="20.54" lengthAdjust="spacingAndGlyphs">3--4</text>
<text x="549.3" y="969.5999999999999" font-size="16.6" fill="#231f20" textLength="20.54" lengthAdjust="spacingAndGlyphs">3--4</text>
<text x="638.9" y="969.5999999999999" font-size="16.6" fill="#231f20" textLength="20.54" lengthAdjust="spacingAndGlyphs">3--4</text>
<text x="733.5" y="969.5999999999999" font-size="16.6" fill="#231f20" textLength="20.54" lengthAdjust="spacingAndGlyphs">3--4</text>
<text x="832.3" y="969.5999999999999" font-size="16.6" fill="#231f20" textLength="20.54" lengthAdjust="spacingAndGlyphs">3--4</text>
<text x="931.2" y="969.5999999999999" font-size="16.6" fill="#231f20" textLength="20.54" lengthAdjust="spacingAndGlyphs">3--4</text>
<text x="1029.3" y="969.5999999999999" font-size="16.6" fill="#231f20" textLength="20.54" lengthAdjust="spacingAndGlyphs">3--4</text>
<text x="1127.8" y="969.5999999999999" font-size="16.6" fill="#231f20" textLength="20.54" lengthAdjust="spacingAndGlyphs">3--4</text>
<text x="1229" y="969.5999999999999" font-size="16.6" fill="#231f20" textLength="20.54" lengthAdjust="spacingAndGlyphs">3--4</text>
<text x="7.6" y="999.6" font-size="15.8" fill="#231f20" textLength="195.57" lengthAdjust="spacingAndGlyphs">Processing moisture content</text>
<text x="231.8" y="999.6" font-size="16.6" fill="#231f20" textLength="10.27" lengthAdjust="spacingAndGlyphs">%</text>
<text x="379" y="1001.3" font-size="16.6" fill="#231f20" textLength="29.22" lengthAdjust="spacingAndGlyphs">&lt;0.02</text>
<text x="462.3" y="1001.3" font-size="16.6" fill="#231f20" textLength="29.22" lengthAdjust="spacingAndGlyphs">&lt;0.02</text>
<text x="549.3" y="1001.3" font-size="16.6" fill="#231f20" textLength="29.22" lengthAdjust="spacingAndGlyphs">&lt;0.02</text>
<text x="638.9" y="1001.3" font-size="16.6" fill="#231f20" textLength="29.22" lengthAdjust="spacingAndGlyphs">&lt;0.02</text>
<text x="733.5" y="1001.3" font-size="16.6" fill="#231f20" textLength="29.22" lengthAdjust="spacingAndGlyphs">&lt;0.02</text>
<text x="832.3" y="1001.3" font-size="16.6" fill="#231f20" textLength="29.22" lengthAdjust="spacingAndGlyphs">&lt;0.02</text>
<text x="931.2" y="1001.3" font-size="16.6" fill="#231f20" textLength="29.22" lengthAdjust="spacingAndGlyphs">&lt;0.02</text>
<text x="1029.3" y="1001.3" font-size="16.6" fill="#231f20" textLength="29.22" lengthAdjust="spacingAndGlyphs">&lt;0.02</text>
<text x="1127.8" y="1001.3" font-size="16.6" fill="#231f20" textLength="29.22" lengthAdjust="spacingAndGlyphs">&lt;0.02</text>
<text x="1229" y="1001.3" font-size="16.6" fill="#231f20" textLength="29.22" lengthAdjust="spacingAndGlyphs">&lt;0.02</text>
<text x="7.6" y="1034.4" font-size="15.8" fill="#231f20" textLength="75.83" lengthAdjust="spacingAndGlyphs">Application</text>
<text x="193.0" y="516.4" font-size="16.5" fill="#707070" textLength="6.90" lengthAdjust="spacingAndGlyphs">C</text>
<text x="191.6" y="509.6" font-size="8" fill="#9a9a9a" textLength="2.60" lengthAdjust="spacingAndGlyphs">°</text>
<text x="201.9" y="516.4" font-size="16.8" fill="#231f20" textLength="3.30" lengthAdjust="spacingAndGlyphs">)</text>
<text x="379.5" y="1035.2" font-size="17" fill="#231f20" textLength="787.80" lengthAdjust="spacingAndGlyphs">Shell, frame, connectors, impeller and other parts in automobiles, electronic appliances, household appliances, IT areas.</text>
<text x="15.6" y="1082" font-size="18.2" fill="#231f20" textLength="776.60" lengthAdjust="spacingAndGlyphs">Note: 1. The above data were experimental typical values and not promised for the formal quality assurance.</text>
<text x="57.4" y="1101.6" font-size="18.2" fill="#231f20" textLength="584.90" lengthAdjust="spacingAndGlyphs">2. The above data were measured at 23°C and 50% humidity with injection spline.</text>
</svg>
</div></body></html>
